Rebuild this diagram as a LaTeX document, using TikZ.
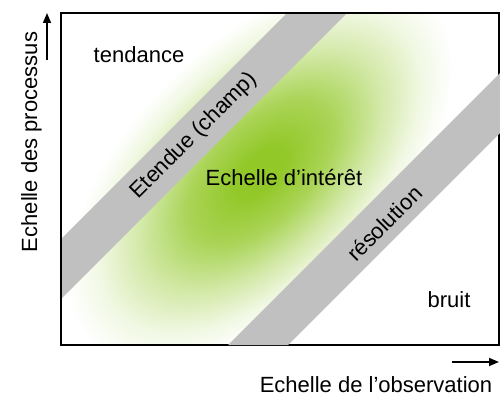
\documentclass[tikz,border=0pt]{standalone}
\usepackage{fontspec}
\usetikzlibrary{arrows.meta}
\setmainfont{Liberation Sans}
\definecolor{gc}{RGB}{146,200,40}
\definecolor{bandgray}{RGB}{192,192,192}
\pgfdeclareradialshading{blob}{\pgfpoint{0bp}{0bp}}{color(0bp)=(gc);color(3bp)=(gc);color(9bp)=(gc!78!white);color(15bp)=(gc!40!white);color(20bp)=(gc!13!white);color(24bp)=(white);color(50bp)=(white)}
\begin{document}
\begin{tikzpicture}[x=1pt,y=-1pt,
  lbl/.style={font=\fontsize{22}{26}\selectfont, inner sep=0pt},
  band/.style={fill=bandgray, draw=none},
  frame/.style={draw=black, line width=2pt},
  axarrow/.style={-{Triangle[length=10pt,width=8pt]}, line width=1.6pt}]
\useasboundingbox (0,0) rectangle (500,396);
% green blob
\begin{scope}
  \clip (61,13) rectangle (498,345);
  \begin{scope}[transform canvas={shift={(260,172)},rotate=45}]
    \shade[shading=blob] (0,0) ellipse (250 and 135);
  \end{scope}
\end{scope}
% upper band
\path[band] (61,239) -- (287,13) -- (347,13) -- (61,299) -- cycle;
% frame
\draw[frame] (61,13) rectangle (498.5,345);
% lower band
\path[band] (500,73) -- (228,345) -- (288,345) -- (500,133) -- cycle;
% labels
\node[lbl, anchor=base] (tend) at (139,63) {tendance};
\node[lbl, anchor=base] (interet) at (284,185) {Echelle d’intérêt};
\node[lbl, anchor=base] (bruit) at (449,307) {bruit};
\node[lbl, anchor=base, rotate=45] (etendue) at (198,140) {Etendue (champ)};
\node[lbl, anchor=base, rotate=45] (resol) at (390,229) {résolution};
\node[lbl, anchor=base] (xlab) at (376,392) {Echelle de l’observation};
\node[lbl, anchor=base, rotate=90] (ylab) at (37,142) {Echelle des processus};
% axis arrows
\coordinate (ya) at (47,60);
\coordinate (yb) at (47,13);
\coordinate (xa) at (452,362);
\coordinate (xb) at (499,362);
\draw[axarrow] (ya) -- (yb);
\draw[axarrow] (xa) -- (xb);
\end{tikzpicture}
\end{document}
